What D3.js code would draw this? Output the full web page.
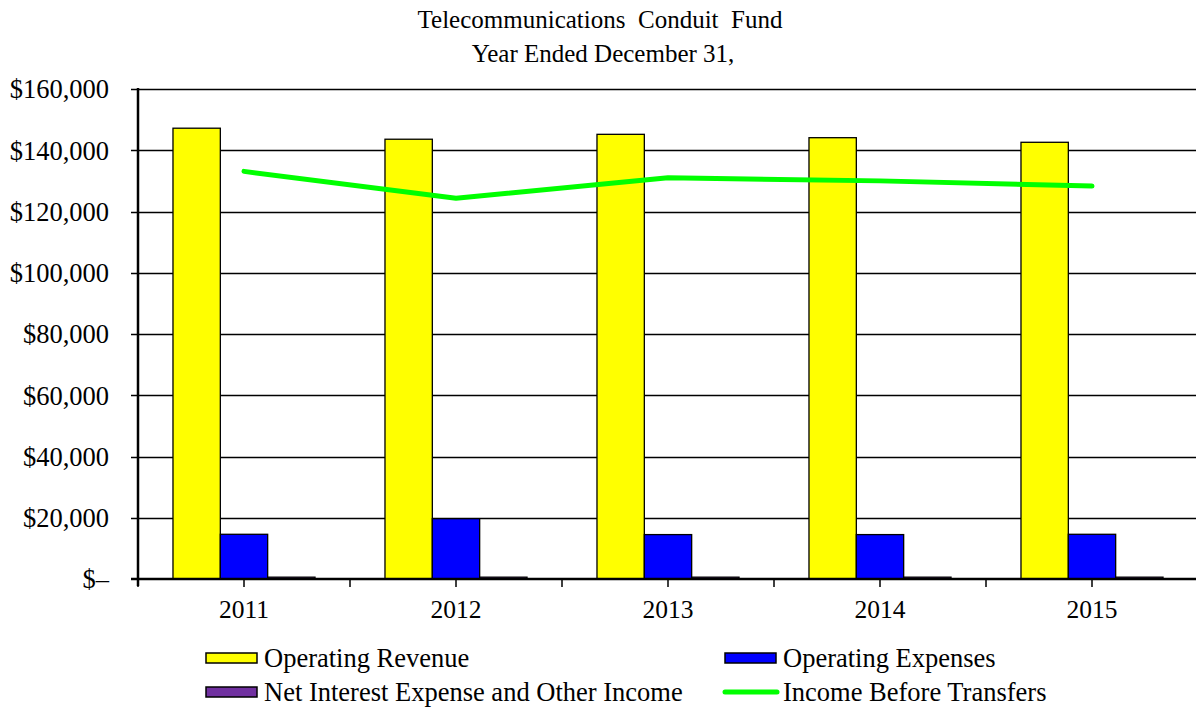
<!DOCTYPE html>
<html>
<head>
<meta charset="utf-8">
<script src="https://cdn.jsdelivr.net/npm/d3@7"></script>
<style>
  body { margin: 0; background: #fff; }
  text { font-family: "Liberation Serif", "Times New Roman", serif; fill: #000; }
</style>
</head>
<body>
<div id="chart"></div>
<script>
// data
var years = ["2011", "2012", "2013", "2014", "2015"];
var seriesNames = ["Operating Revenue", "Operating Expenses", "Net Interest Expense and Other Income"];
var opRevenue = [147200, 143600, 145200, 144100, 142600];
var opExpenses = [14600, 19700, 14500, 14500, 14600];
var netInterest = [600, 600, 600, 600, 600];
var incomeBefore = [133100, 124300, 131000, 130000, 128300];
var lineName = "Income Before Transfers";
var yTicks = [0, 20000, 40000, 60000, 80000, 100000, 120000, 140000, 160000];

var barColors = ["#ffff00", "#0000ff", "#7030a0"];
var lineColor = "#00ff00";

var width = 1196, height = 710;
var margin = {left: 138, right: -2, top: 89, bottom: 131};

var svg = d3.select("#chart").append("svg")
    .attr("width", width)
    .attr("height", height);

var x0 = d3.scaleBand()
    .domain(years)
    .range([margin.left, width - margin.right])
    .paddingInner(0.33)
    .paddingOuter(0.165);

var x1 = d3.scaleBand()
    .domain(d3.range(seriesNames.length))
    .range([0, x0.bandwidth()]);

var y = d3.scaleLinear()
    .domain([0, 160000])
    .range([height - margin.bottom, margin.top]);

var fmt = function(v) { return v === 0 ? "$\u2013" : "$" + d3.format(",")(v); };

// title
var title = svg.append("g").attr("text-anchor", "middle").style("font-size", "25px");
title.append("text").attr("x", 600).attr("y", 28).style("white-space", "pre")
    .text("Telecommunications  Conduit  Fund");
title.append("text").attr("x", 603).attr("y", 62).text("Year Ended December 31,");

// gridlines + y axis
svg.append("g")
    .selectAll("line")
    .data(yTicks.filter(function(d) { return d > 0; }))
    .enter().append("line")
    .attr("x1", margin.left - 7)
    .attr("x2", width)
    .attr("y1", function(d) { return Math.round(y(d)) + 0.5; })
    .attr("y2", function(d) { return Math.round(y(d)) + 0.5; })
    .attr("stroke", "#000")
    .attr("stroke-width", 1.3);

svg.append("g")
    .selectAll("text")
    .data(yTicks)
    .enter().append("text")
    .attr("x", 109)
    .attr("y", function(d) { return y(d); })
    .attr("dy", "0.35em")
    .attr("text-anchor", "end")
    .style("font-size", "26.5px")
    .text(fmt);

// bars
var groups = svg.append("g")
    .selectAll("g")
    .data(years)
    .enter().append("g")
    .attr("transform", function(d) { return "translate(" + x0(d) + ",0)"; });

groups.selectAll("rect")
    .data(function(d, i) { return [opRevenue[i], opExpenses[i], netInterest[i]]; })
    .enter().append("rect")
    .attr("x", function(d, i) { return x1(i); })
    .attr("width", x1.bandwidth())
    .attr("y", function(d) { return y(d); })
    .attr("height", function(d) { return y(0) - y(d); })
    .attr("fill", function(d, i) { return barColors[i]; })
    .attr("stroke", "#000")
    .attr("stroke-width", 1.3);

// axes lines
var y0 = y(0);
svg.append("line")
    .attr("x1", margin.left).attr("x2", margin.left)
    .attr("y1", margin.top - 1).attr("y2", y0 + 7)
    .attr("stroke", "#000").attr("stroke-width", 2.5);
svg.append("line")
    .attr("x1", margin.left - 7).attr("x2", width)
    .attr("y1", y0).attr("y2", y0)
    .attr("stroke", "#000").attr("stroke-width", 2.5);

// x ticks at centers and boundaries
var step = x0.step();
var xTickPos = [];
years.forEach(function(d, i) {
  xTickPos.push(margin.left + i * step);
  xTickPos.push(x0(d) + x0.bandwidth() / 2);
});
svg.append("g")
    .selectAll("line")
    .data(xTickPos)
    .enter().append("line")
    .attr("x1", function(d) { return d; })
    .attr("x2", function(d) { return d; })
    .attr("y1", y0)
    .attr("y2", y0 + 8)
    .attr("stroke", "#000")
    .attr("stroke-width", 1.5);

svg.append("g")
    .selectAll("text")
    .data(years)
    .enter().append("text")
    .attr("x", function(d) { return x0(d) + x0.bandwidth() / 2; })
    .attr("y", 618)
    .attr("text-anchor", "middle")
    .style("font-size", "25.5px")
    .text(function(d) { return d; });

// line
var line = d3.line()
    .x(function(d, i) { return x0(years[i]) + x0.bandwidth() / 2; })
    .y(function(d) { return y(d); });

svg.append("path")
    .datum(incomeBefore)
    .attr("d", line)
    .attr("fill", "none")
    .attr("stroke", lineColor)
    .attr("stroke-width", 5)
    .attr("stroke-linecap", "round")
    .attr("stroke-linejoin", "round");

// legend
var legendItems = [
  {name: seriesNames[0], type: "bar", color: barColors[0], x: 206, y: 658},
  {name: seriesNames[1], type: "bar", color: barColors[1], x: 725, y: 658},
  {name: seriesNames[2], type: "bar", color: barColors[2], x: 206, y: 692},
  {name: lineName, type: "line", color: lineColor, x: 725, y: 692}
];

var leg = svg.append("g")
    .selectAll("g")
    .data(legendItems)
    .enter().append("g")
    .attr("transform", function(d) { return "translate(" + d.x + "," + d.y + ")"; });

leg.filter(function(d) { return d.type === "bar"; })
    .append("rect")
    .attr("x", 0).attr("y", -5)
    .attr("width", 51).attr("height", 10)
    .attr("fill", function(d) { return d.color; })
    .attr("stroke", "#000")
    .attr("stroke-width", 1.5);

leg.filter(function(d) { return d.type === "line"; })
    .append("line")
    .attr("x1", 0).attr("x2", 52)
    .attr("y1", 0).attr("y2", 0)
    .attr("stroke", function(d) { return d.color; })
    .attr("stroke-width", 5)
    .attr("stroke-linecap", "round");

leg.append("text")
    .attr("x", 58)
    .attr("dy", "0.35em")
    .style("font-size", "26.5px")
    .text(function(d) { return d.name; });
</script>
</body>
</html>
